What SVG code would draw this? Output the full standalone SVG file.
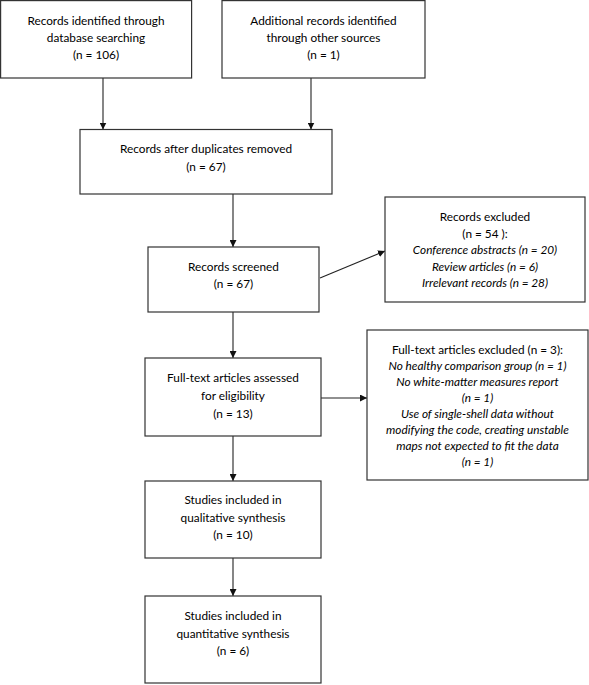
<svg xmlns="http://www.w3.org/2000/svg" width="589" height="685" viewBox="0 0 589 685">
<defs>
<style>
.box{fill:#fff;stroke:#333;stroke-width:1.2}
text{font-family:Lato,"Liberation Sans",sans-serif;font-size:11.8px;fill:#000;text-anchor:middle}
.i{font-style:italic}
.c{stroke:#222;stroke-width:1.1;fill:none}
</style>
<marker id="ah" viewBox="0 0 10 10" refX="10" refY="5" markerWidth="7" markerHeight="7" markerUnits="userSpaceOnUse" orient="auto">
<path d="M0,0 L10,5 L0,10 z" fill="#111"/>
</marker>
</defs>
<rect width="589" height="685" fill="#fff"/>
<g id="connectors">
<line class="c" x1="103" y1="78" x2="103" y2="129.5" marker-end="url(#ah)"/>
<line class="c" x1="311" y1="78" x2="311" y2="129.5" marker-end="url(#ah)"/>
<line class="c" x1="233" y1="194" x2="233" y2="247" marker-end="url(#ah)"/>
<line class="c" x1="320" y1="278" x2="385" y2="251" marker-end="url(#ah)"/>
<line class="c" x1="233" y1="312" x2="233" y2="358" marker-end="url(#ah)"/>
<line class="c" x1="321" y1="398" x2="367" y2="398" marker-end="url(#ah)"/>
<line class="c" x1="233" y1="436" x2="233" y2="481" marker-end="url(#ah)"/>
<line class="c" x1="233" y1="558" x2="233" y2="596" marker-end="url(#ah)"/>
</g>
<g id="n1">
<rect class="box" x="0.6" y="0.6" width="191" height="77.4"/>
<text x="96" y="24.5">Records identified through</text>
<text x="96" y="41.5">database searching</text>
<text x="96" y="58.5">(n = 106)</text>
</g>
<g id="n2">
<rect class="box" x="222" y="0.6" width="203" height="77.4"/>
<text x="323.5" y="24.5">Additional records identified</text>
<text x="323.5" y="41.5">through other sources</text>
<text x="323.5" y="58.5">(n = 1)</text>
</g>
<g id="n3">
<rect class="box" x="80" y="129.5" width="252" height="64.5"/>
<text x="206" y="152.5">Records after duplicates removed</text>
<text x="206" y="170.5">(n = 67)</text>
</g>
<g id="n4">
<rect class="box" x="148" y="247" width="171" height="65"/>
<text x="233.5" y="270.5">Records screened</text>
<text x="233.5" y="287.5">(n = 67)</text>
</g>
<g id="n5">
<rect class="box" x="385" y="197" width="200" height="105"/>
<text x="485" y="220.5">Records excluded</text>
<text x="485" y="237.5">(n =  54 ):</text>
<text class="i" x="485" y="254">Conference abstracts (n = 20)</text>
<text class="i" x="485" y="270.5">Review articles (n = 6)</text>
<text class="i" x="485" y="287">Irrelevant records (n = 28)</text>
</g>
<g id="n6">
<rect class="box" x="145" y="358" width="176" height="78"/>
<text x="233" y="381.5">Full-text articles assessed</text>
<text x="233" y="399.5">for eligibility</text>
<text x="233" y="417.5">(n = 13)</text>
</g>
<g id="n7">
<rect class="box" x="367" y="330" width="221" height="150"/>
<text x="477.5" y="353.5">Full-text articles excluded (n = 3):</text>
<text class="i" x="477.5" y="369.5">No healthy comparison group (n = 1)</text>
<text class="i" x="477.5" y="386">No white-matter measures report</text>
<text class="i" x="477.5" y="401.5">(n = 1)</text>
<text class="i" x="477.5" y="417.5">Use of single-shell data without</text>
<text class="i" x="477.5" y="433.5">modifying the code, creating unstable</text>
<text class="i" x="477.5" y="449.5">maps not expected to fit the data</text>
<text class="i" x="477.5" y="465.5">(n = 1)</text>
</g>
<g id="n8">
<rect class="box" x="145" y="481" width="176" height="77"/>
<text x="233" y="503.5">Studies included in</text>
<text x="233" y="521.5">qualitative synthesis</text>
<text x="233" y="538.5">(n = 10)</text>
</g>
<g id="n9">
<rect class="box" x="145" y="596" width="176" height="87"/>
<text x="233" y="619.5">Studies included in</text>
<text x="233" y="637.5">quantitative synthesis</text>
<text x="233" y="654.5">(n =  6)</text>
</g>
</svg>
